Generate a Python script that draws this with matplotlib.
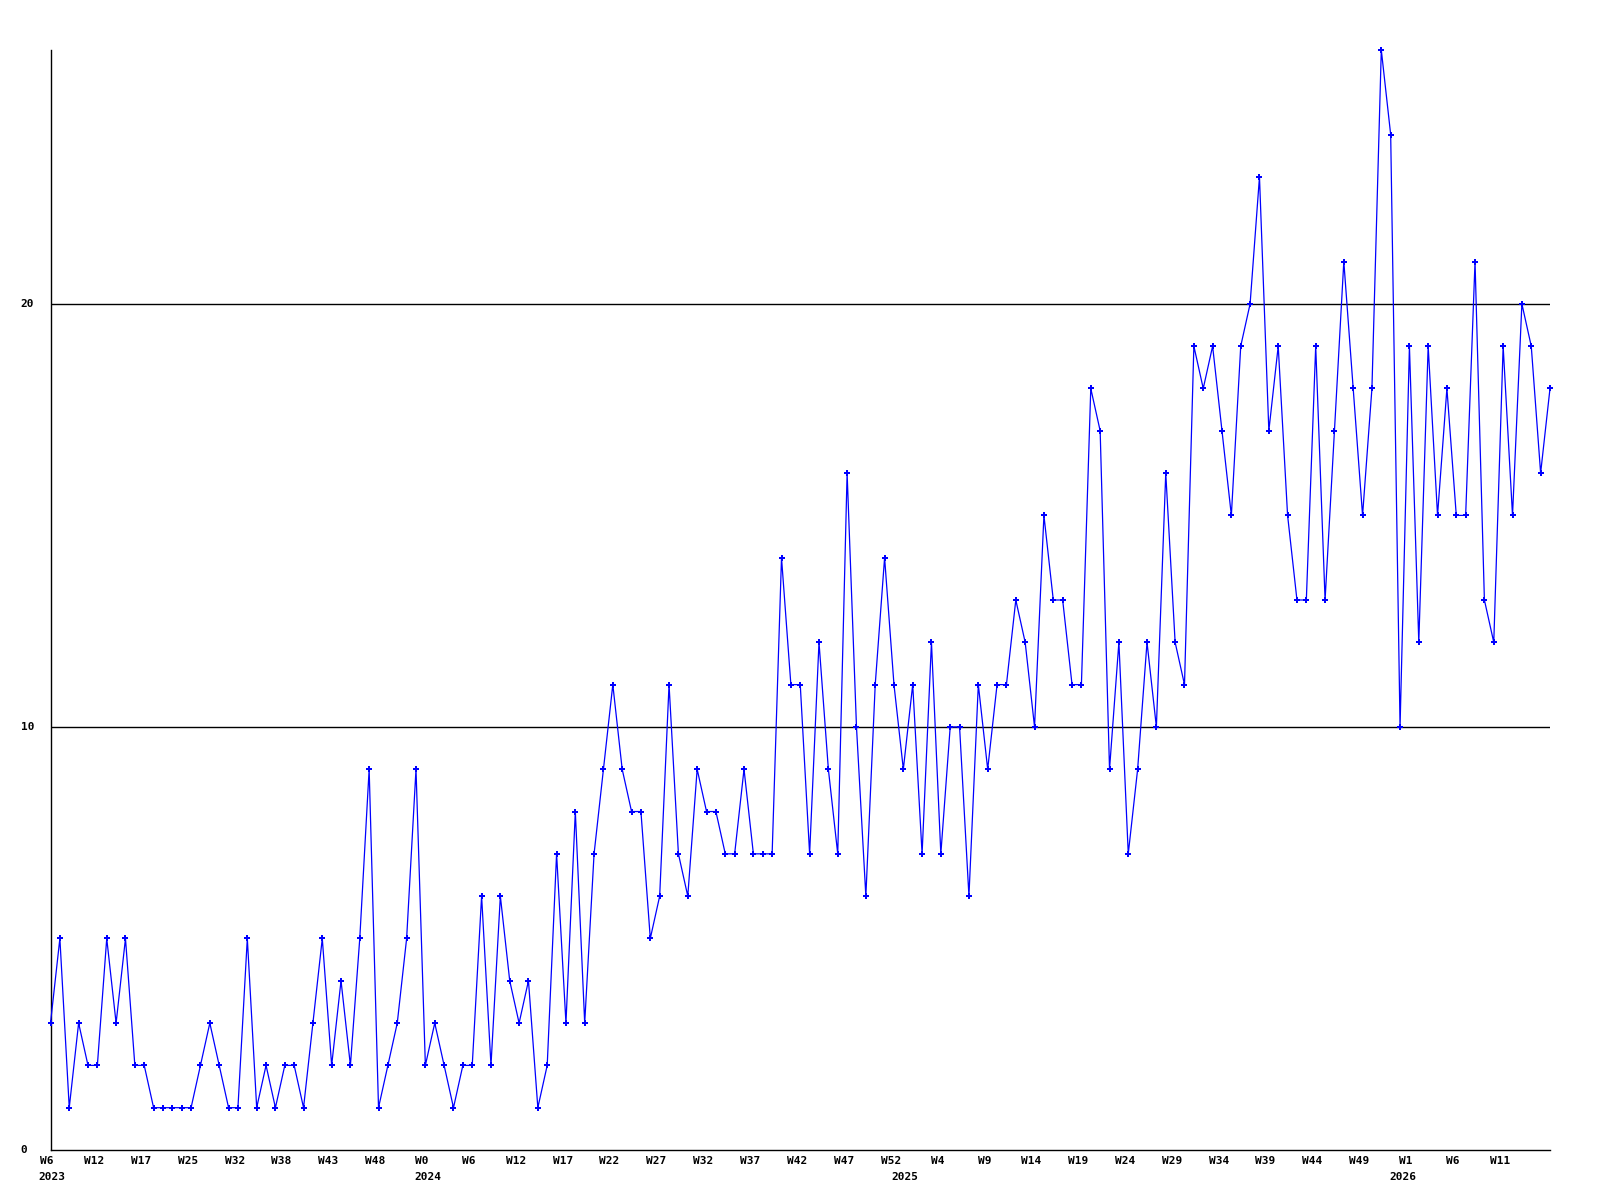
import numpy as np
import matplotlib
matplotlib.use("Agg")
import matplotlib.pyplot as plt
import matplotlib.transforms as mtransforms

# weekly counts, one point per week with data
values = [
    3, 5, 1, 3, 2, 2, 5, 3, 5, 2,
    2, 1, 1, 1, 1, 1, 2, 3, 2, 1,
    1, 5, 1, 2, 1, 2, 2, 1, 3, 5,
    2, 4, 2, 5, 9, 1, 2, 3, 5, 9,
    2, 3, 2, 1, 2, 2, 6, 2, 6, 4,
    3, 4, 1, 2, 7, 3, 8, 3, 7, 9,
    11, 9, 8, 8, 5, 6, 11, 7, 6, 9,
    8, 8, 7, 7, 9, 7, 7, 7, 14, 11,
    11, 7, 12, 9, 7, 16, 10, 6, 11, 14,
    11, 9, 11, 7, 12, 7, 10, 10, 6, 11,
    9, 11, 11, 13, 12, 10, 15, 13, 13, 11,
    11, 18, 17, 9, 12, 7, 9, 12, 10, 16,
    12, 11, 19, 18, 19, 17, 15, 19, 20, 23,
    17, 19, 15, 13, 13, 19, 13, 17, 21, 18,
    15, 18, 26, 24, 10, 19, 12, 19, 15, 18,
    15, 15, 21, 13, 12, 19, 15, 20, 19, 16,
    18,
]

week_labels = ["W6", "W12", "W17", "W25", "W32", "W38", "W43", "W48",
               "W0", "W6", "W12", "W17", "W22", "W27", "W32", "W37",
               "W42", "W47", "W52", "W4", "W9", "W14", "W19", "W24",
               "W29", "W34", "W39", "W44", "W49", "W1", "W6", "W11"]
week_ticks = list(range(0, 5 * len(week_labels), 5))

year_labels = ["2023", "2024", "2025", "2026"]
year_pos = [0.2, 40.3, 91.2, 144.3]

y_ticks = [0, 10, 20]

font = dict(family="DejaVu Sans Mono", fontweight="bold", fontsize=8)

fig = plt.figure(figsize=(16, 12), dpi=100)
ax = fig.add_axes([50.5 / 1600, 50 / 1200, 1499.5 / 1600, 1100 / 1200])

x = np.arange(len(values))
ax.plot(x, values, color="#0000ff", linewidth=0.9, marker="P",
        markersize=4.5, markeredgewidth=0, clip_on=False, zorder=3)

ax.set_xlim(0, len(values) - 1)
ax.set_ylim(0, 26)

for v in y_ticks[1:]:
    ax.axhline(v, color="black", linewidth=1, zorder=2)

for side in ["top", "right"]:
    ax.spines[side].set_visible(False)
for side in ["left", "bottom"]:
    ax.spines[side].set_color("black")
    ax.spines[side].set_linewidth(1)

ax.set_yticks([])
ax.set_xticks([])

# y labels sit left of the axis, left aligned
ytrans = mtransforms.blended_transform_factory(fig.transFigure, ax.transData)
for v in y_ticks:
    ax.text(20.5 / 1600, v, str(v), transform=ytrans, ha="left", va="center", **font)

xtrans = mtransforms.blended_transform_factory(ax.transData, fig.transFigure)
for pos, lab in zip(week_ticks, week_labels):
    ax.text(pos - 0.35, 1 - 1161 / 1200, lab, transform=xtrans, ha="center",
            va="center", clip_on=False, **font)
for pos, lab in zip(year_pos, year_labels):
    ax.text(pos, 1 - 1177 / 1200, lab, transform=xtrans, ha="center",
            va="center", clip_on=False, **font)

fig.savefig("out.png", dpi=100, facecolor="white")
